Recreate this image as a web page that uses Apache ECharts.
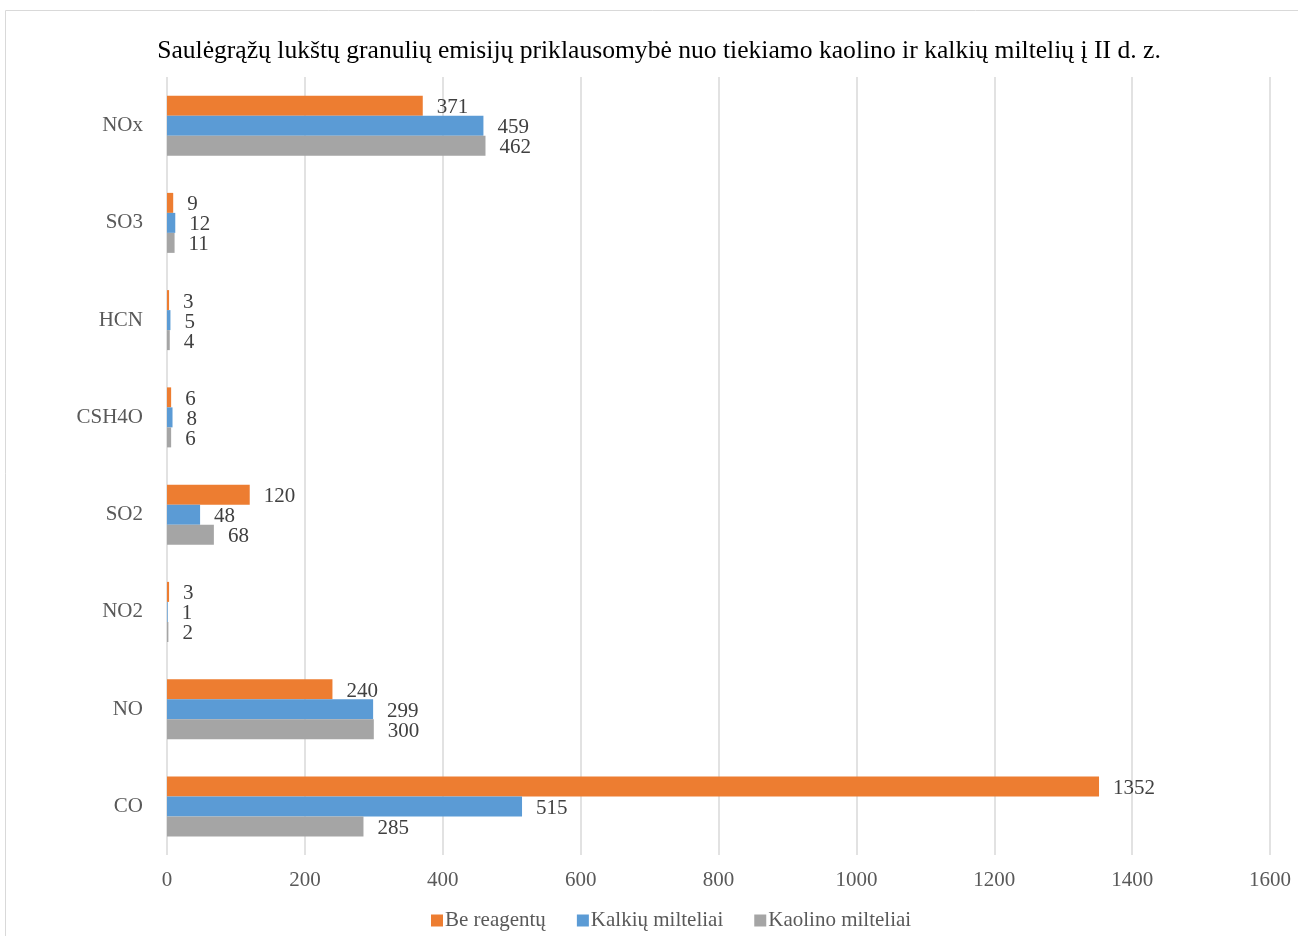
<!DOCTYPE html>
<html>
<head>
<meta charset="utf-8">
<script src="https://cdn.jsdelivr.net/npm/echarts@6/dist/echarts.min.js"></script>
<style>
  html, body { margin: 0; padding: 0; background: #fff; }
  #chart { width: 1298px; height: 936px; }
</style>
</head>
<body>
<div id="chart"></div>
<script>
// kategorijos (iš viršaus į apačią)
var categories = ['NOx', 'SO3', 'HCN', 'CSH4O', 'SO2', 'NO2', 'NO', 'CO'];
var beReagentu = [371, 9, 3, 6, 120, 3, 240, 1352];
var kalkiu = [459, 12, 5, 8, 48, 1, 299, 515];
var kaolino = [462, 11, 4, 6, 68, 2, 300, 285];
var xTicks = [0, 200, 400, 600, 800, 1000, 1200, 1400, 1600];

var font = '"Liberation Serif", "Times New Roman", serif';

function barSeries(name, data, color) {
  return {
    name: name,
    type: 'bar',
    data: data,
    barWidth: 20,
    barGap: 0,
    itemStyle: { color: color },
    label: {
      show: true,
      position: 'right',
      distance: 14,
      offset: [0, 2],
      fontFamily: font,
      fontSize: 21,
      color: '#404040'
    }
  };
}

var chart = echarts.init(document.getElementById('chart'));
var option = {
  animation: false,
  textStyle: { fontFamily: font },
  title: {
    text: 'Saulėgrąžų lukštų granulių emisijų priklausomybė nuo tiekiamo kaolino ir kalkių miltelių į II d. z.',
    left: 654,
    textAlign: 'center',
    top: 33,
    textStyle: { fontFamily: font, fontSize: 25.6, fontWeight: 'normal', color: '#000' }
  },
  legend: {
    bottom: 0,
    left: 426,
    itemWidth: 12,
    itemHeight: 12,
    itemGap: 31,
    icon: 'rect',
    textStyle: { fontFamily: font, fontSize: 21, color: '#595959', padding: [0, 0, 0, -3] },
    data: ['Be reagentų', 'Kalkių milteliai', 'Kaolino milteliai']
  },
  graphic: [{
    type: 'rect',
    shape: { x: 5.5, y: 10.5, width: 1400, height: 1000 },
    style: { fill: 'none', stroke: '#d9d9d9', lineWidth: 1 },
    silent: true
  }],
  grid: { left: 167, right: 28, top: 77, bottom: 81 },
  xAxis: {
    type: 'value',
    min: xTicks[0],
    max: xTicks[xTicks.length - 1],
    interval: 200,
    axisLine: { show: false },
    axisTick: { show: false },
    axisLabel: {
      fontFamily: font, fontSize: 21, color: '#595959', margin: 15,
      formatter: function (v) { return String(v); }
    },
    splitLine: { lineStyle: { color: '#d9d9d9', width: 1.5 } }
  },
  yAxis: {
    type: 'category',
    inverse: true,
    data: categories,
    axisLine: { show: false },
    axisTick: { show: false },
    axisLabel: { fontFamily: font, fontSize: 21, color: '#595959', margin: 24, padding: [4, 0, 0, 0] }
  },
  series: [
    barSeries('Be reagentų', beReagentu, '#ED7D31'),
    barSeries('Kalkių milteliai', kalkiu, '#5B9BD5'),
    barSeries('Kaolino milteliai', kaolino, '#A5A5A5')
  ]
};
chart.setOption(option);
</script>
</body>
</html>
